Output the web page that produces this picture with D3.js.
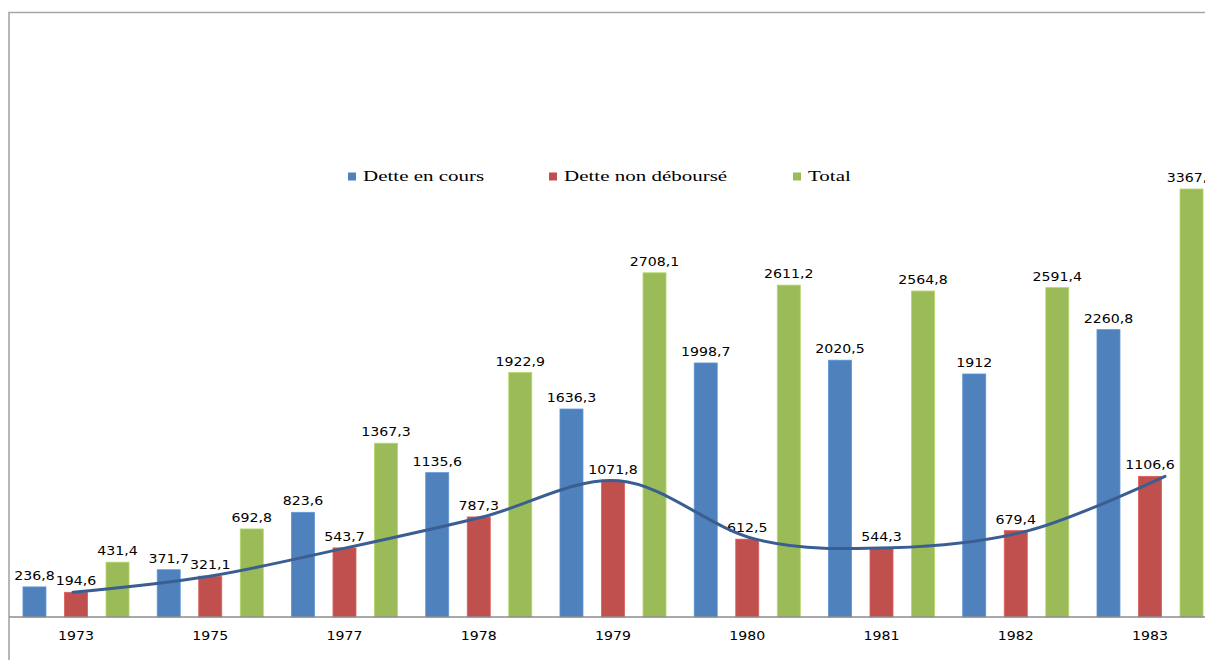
<!DOCTYPE html>
<html>
<head>
<meta charset="utf-8">
<script src="https://cdn.jsdelivr.net/npm/d3@7"></script>
<style>
  html, body { margin: 0; padding: 0; background: #fff; overflow: hidden; }
  svg { display: block; }
</style>
</head>
<body>
<svg id="chart" width="1205" height="660"></svg>
<script>
// Dette extérieure, 1973–1983
const years = ["1973", "1975", "1977", "1978", "1979", "1980", "1981", "1982", "1983"];
const series = ["Dette en cours", "Dette non déboursé", "Total"];
const detteEnCours   = [236.8, 371.7, 823.6, 1135.6, 1636.3, 1998.7, 2020.5, 1912, 2260.8];
const detteNonDebour = [194.6, 321.1, 543.7, 787.3, 1071.8, 612.5, 544.3, 679.4, 1106.6];
const total          = [431.4, 692.8, 1367.3, 1922.9, 2708.1, 2611.2, 2564.8, 2591.4, 3367.4];
const colors = ["#4F81BD", "#C0504D", "#9BBB59"];

const values = [detteEnCours, detteNonDebour, total];
const fmt = v => String(v).replace(".", ",");

const svg = d3.select("#chart");
const W = 1205, H = 660;

// plot area (extends past the right edge of the page)
const left = 9, right = 1217, baseline = 617;
const stretch = 1.15;

const x0 = d3.scaleBand().domain(years).range([left, right])
  .paddingInner(0.21).paddingOuter(0.104);
const x1 = d3.scaleBand().domain(series).range([0, x0.bandwidth()])
  .paddingInner(0.446).paddingOuter(0);
const y = d3.scaleLinear().domain([0, 3367.4]).range([baseline, 189]);

// frame
svg.append("path")
  .attr("d", `M${left},${H} V12.5 H${W}`)
  .attr("fill", "none").attr("stroke", "#a6a6a6").attr("stroke-width", 1.6);

// bars
const rows = years.map((yr, i) => ({ yr, vals: series.map((s, k) => ({ s, k, v: values[k][i] })) }));
const g = svg.append("g");
const grp = g.selectAll("g.grp").data(rows).join("g")
  .attr("class", "grp")
  .attr("transform", d => `translate(${x0(d.yr)},0)`);

grp.selectAll("rect").data(d => d.vals).join("rect")
  .attr("x", d => x1(d.s))
  .attr("width", x1.bandwidth())
  .attr("y", d => y(d.v))
  .attr("height", d => baseline - y(d.v))
  .attr("fill", d => colors[d.k])
  .attr("stroke", d => d3.color(colors[d.k]).brighter(0.4))
  .attr("stroke-width", 0.8);

// category axis
svg.append("line")
  .attr("x1", left).attr("x2", W)
  .attr("y1", baseline).attr("y2", baseline)
  .attr("stroke", "#8c8c8c").attr("stroke-width", 1.4);

svg.append("g").selectAll("text").data(years).join("text")
  .attr("transform", d => `translate(${x0(d) + x0.bandwidth() / 2},${baseline + 23}) scale(${stretch},1)`)
  .attr("text-anchor", "middle")
  .attr("font-family", "DejaVu Sans, Verdana, sans-serif")
  .attr("font-size", 12.3)
  .attr("fill", "#000")
  .text(d => d);

// smoothed line through the undisbursed debt values
const xLine = d3.scalePoint().domain(years).range([73, 1165]);
const line = d3.line()
  .x((d, i) => xLine(years[i]))
  .y(d => y(d))
  .curve(d3.curveCardinal.tension(0));
svg.append("path")
  .datum(detteNonDebour)
  .attr("d", line)
  .attr("fill", "none")
  .attr("stroke", "#3B5E92")
  .attr("stroke-width", 3)
  .attr("stroke-linecap", "round");

// value labels
grp.selectAll("text").data(d => d.vals).join("text")
  .attr("transform", d => `translate(${x1(d.s) + x1.bandwidth() / 2},${y(d.v) - 7}) scale(${stretch},1)`)
  .attr("text-anchor", "middle")
  .attr("font-family", "DejaVu Sans, Verdana, sans-serif")
  .attr("font-size", 12.3)
  .attr("fill", "#000")
  .text(d => fmt(d.v));

// legend
const legendX = [348, 549, 793];
const lg = svg.append("g").selectAll("g").data(series).join("g")
  .attr("transform", (d, i) => `translate(${legendX[i]},181)`);
lg.append("rect")
  .attr("x", 0).attr("y", -8.5).attr("width", 8).attr("height", 8)
  .attr("fill", (d, i) => colors[i]);
lg.append("text")
  .attr("transform", `translate(15,0) scale(1.4,1)`)
  .attr("font-family", "Liberation Serif, Times New Roman, serif")
  .attr("font-size", 15)
  .attr("fill", "#000")
  .text(d => d);
</script>
</body>
</html>
